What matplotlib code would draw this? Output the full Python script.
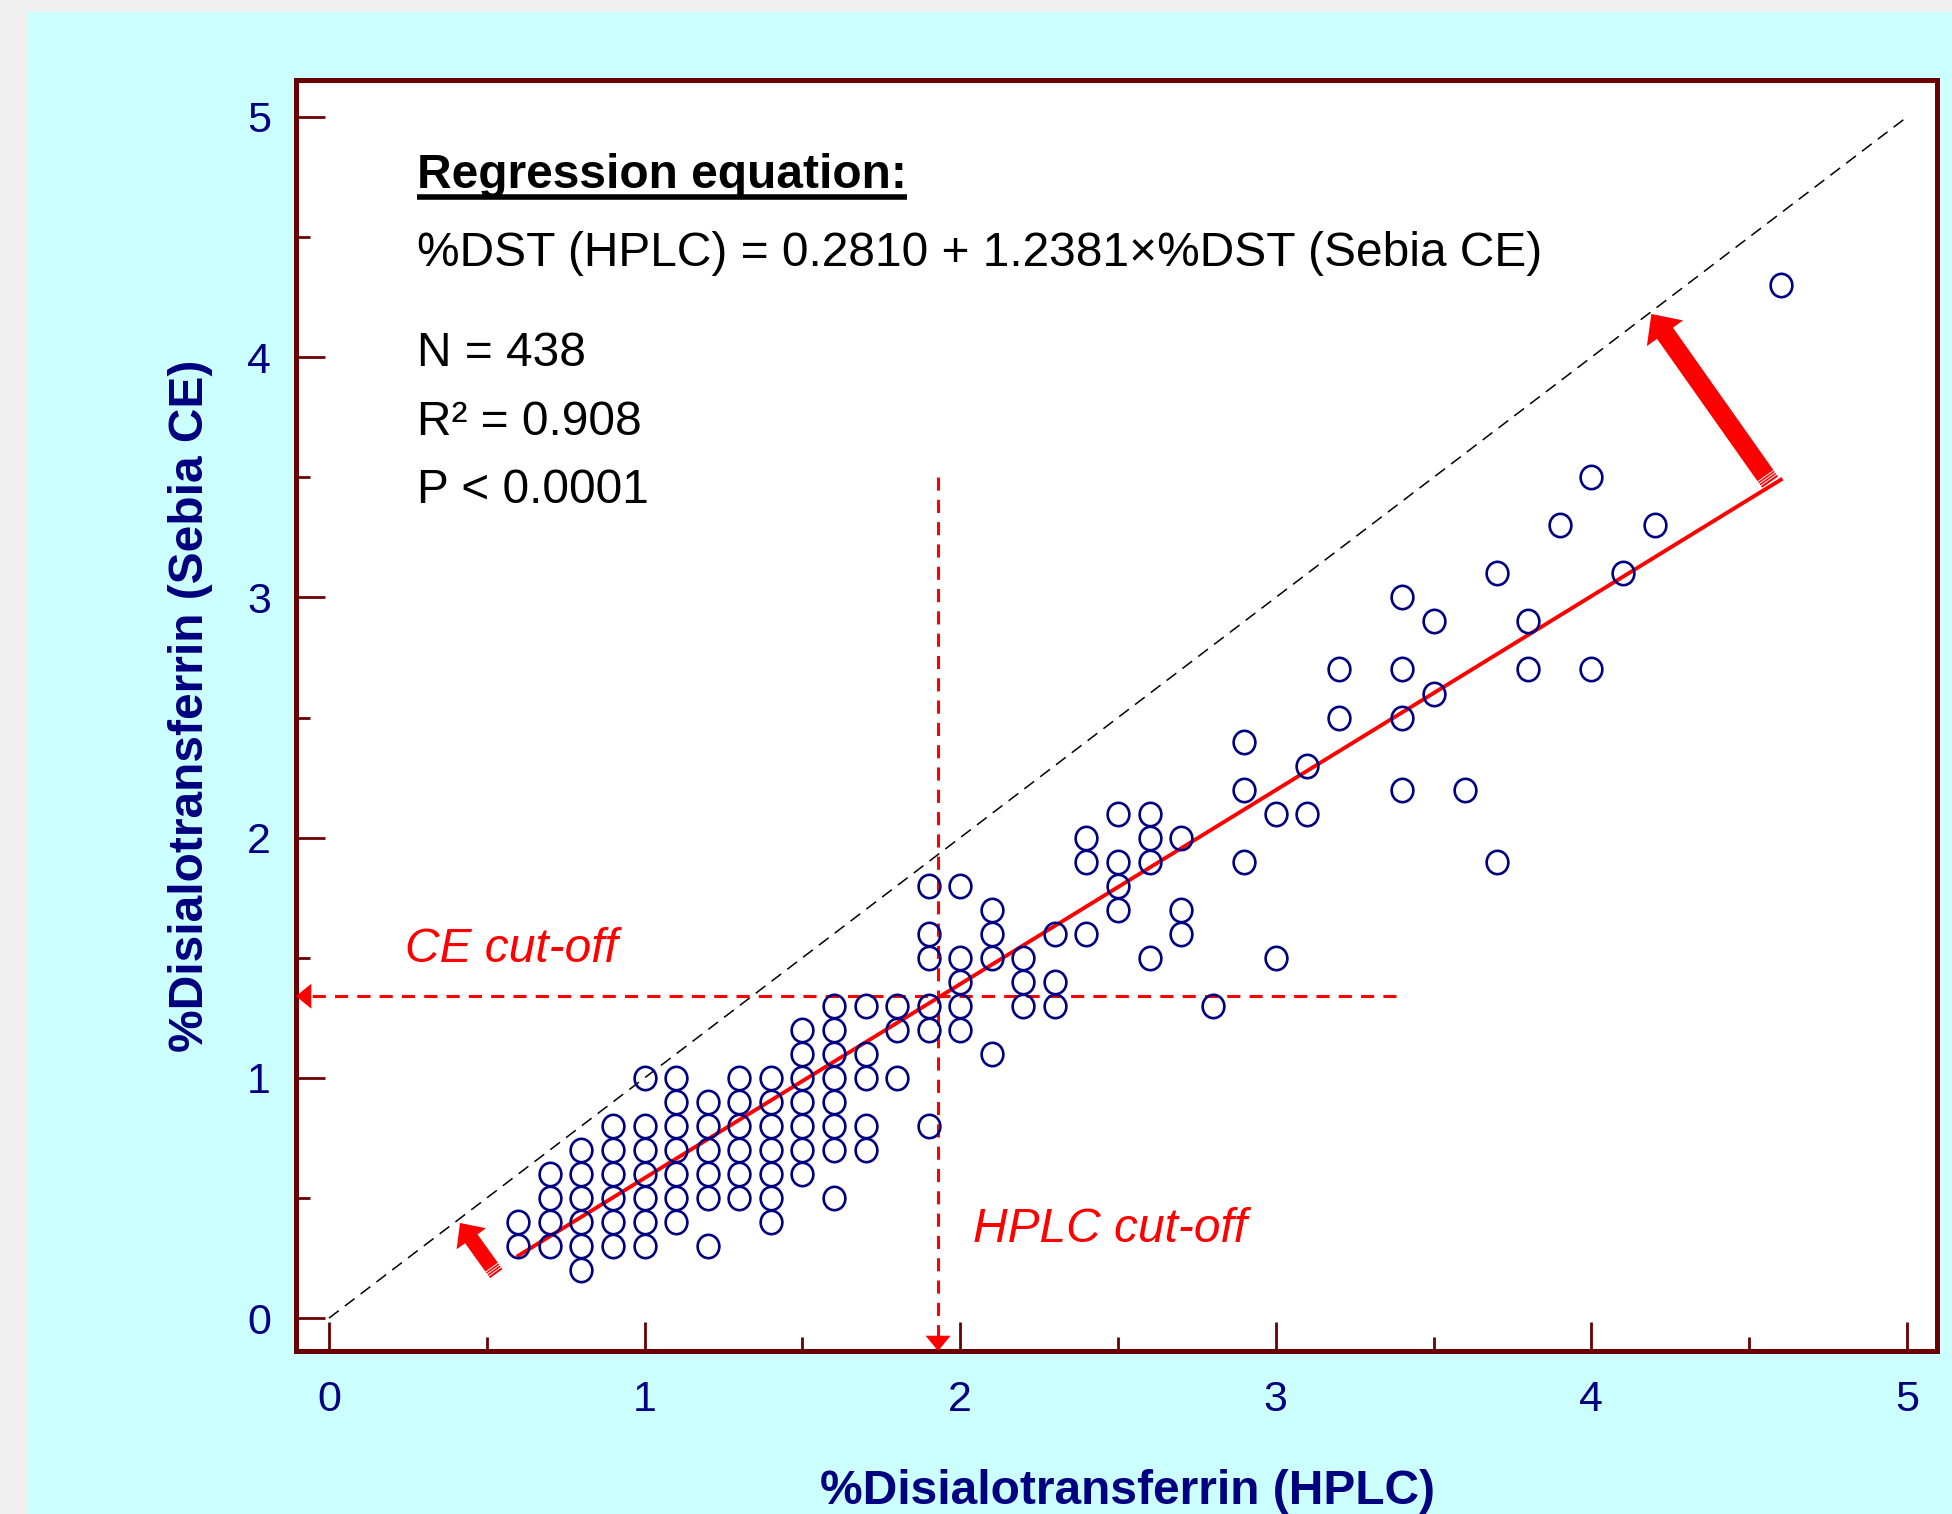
import matplotlib
matplotlib.use('Agg')
import matplotlib.pyplot as plt
from matplotlib.patches import Rectangle
from matplotlib.path import Path
import numpy as np

plt.rcParams['font.family'] = ['Liberation Sans', 'DejaVu Sans']

# ---- data ----
# CE value (y) levels and the HPLC values (x) of the visible circles at each level
ce_levels = [0.2, 0.3, 0.4, 0.5, 0.6, 0.7, 0.8, 0.9, 1.0, 1.1, 1.2, 1.3, 1.4, 1.5,
             1.6, 1.7, 1.8, 1.9, 2.0, 2.1, 2.2, 2.3, 2.4, 2.5, 2.6, 2.7, 2.9, 3.0,
             3.1, 3.3, 3.5, 4.3]
hplc_at_level = [
    [0.8],
    [0.6, 0.7, 0.8, 0.9, 1.0, 1.2],
    [0.6, 0.7, 0.8, 0.9, 1.0, 1.1, 1.4],
    [0.7, 0.8, 0.9, 1.0, 1.1, 1.2, 1.3, 1.4, 1.6],
    [0.7, 0.8, 0.9, 1.0, 1.1, 1.2, 1.3, 1.4, 1.5],
    [0.8, 0.9, 1.0, 1.1, 1.2, 1.3, 1.4, 1.5, 1.6, 1.7],
    [0.9, 1.0, 1.1, 1.2, 1.3, 1.4, 1.5, 1.6, 1.7, 1.9],
    [1.1, 1.2, 1.3, 1.4, 1.5, 1.6],
    [1.0, 1.1, 1.3, 1.4, 1.5, 1.6, 1.7, 1.8],
    [1.5, 1.6, 1.7, 2.1],
    [1.5, 1.6, 1.8, 1.9, 2.0],
    [1.6, 1.7, 1.8, 1.9, 2.0, 2.2, 2.3, 2.8],
    [2.0, 2.2, 2.3],
    [1.9, 2.0, 2.1, 2.2, 2.6, 3.0],
    [1.9, 2.1, 2.3, 2.4, 2.7],
    [2.1, 2.5, 2.7],
    [1.9, 2.0, 2.5],
    [2.4, 2.5, 2.6, 2.9, 3.7],
    [2.4, 2.6, 2.7],
    [2.5, 2.6, 3.0, 3.1],
    [2.9, 3.4, 3.6],
    [3.1],
    [2.9],
    [3.2, 3.4],
    [3.5],
    [3.2, 3.4, 3.8, 4.0],
    [3.5, 3.8],
    [3.4],
    [3.7, 4.1],
    [3.9, 4.2],
    [4.0],
    [4.6],
]

identity_x = [0, 5]
identity_y = [0, 5]
reg_x = [0.6, 4.6]
reg_y = [0.26, 3.49]
hplc_cutoff = 1.93
hplc_cutoff_top = 3.5
ce_cutoff = 1.34
ce_cutoff_right = 3.38
big_arrow_tail = (4.566, 3.48)
big_arrow_tip = (4.19, 4.18)
small_arrow_tail = (0.53, 0.185)
small_arrow_tip = (0.415, 0.396)

x_ticks = [0, 1, 2, 3, 4, 5]
y_ticks = [0, 1, 2, 3, 4, 5]

title_text = 'Regression equation:'
eq_text = '%DST (HPLC) = 0.2810 + 1.2381\u00d7%DST (Sebia CE)'
n_text = 'N = 438'
r2_text = 'R\u00b2 = 0.908'
p_text = 'P < 0.0001'

hplc = np.concatenate([np.array(v, float) for v in hplc_at_level])
ce = np.concatenate([np.full(len(v), lvl) for lvl, v in zip(ce_levels, hplc_at_level)])

# slightly tall oval marker
_circ = Path.unit_circle()
oval = Path(_circ.vertices * np.array([0.93, 1.0]), _circ.codes)

# ---- figure ----
W, H = 1952, 1514
fig = plt.figure(figsize=(W / 100, H / 100), dpi=100, facecolor='#f0f0f0')
fig.patches.append(Rectangle((28 / W, 0), 1 - 28 / W, 1 - 12 / H,
                             transform=fig.transFigure, facecolor='#ccffff',
                             edgecolor='none', zorder=-10))

ax = fig.add_axes([296 / W, 1 - 1351 / H, (1937 - 296) / W, (1351 - 80) / H])
ax.set_facecolor('white')
ax.set_xlim(-0.1046, 5.095)
ax.set_ylim(-0.137, 5.154)

spine_c = '#6b0000'
navy = '#000080'
for s in ax.spines.values():
    s.set_color(spine_c)
    s.set_linewidth(3.6)
    s.set_zorder(5)

ax.set_xticks(x_ticks)
ax.set_yticks(y_ticks)
ax.set_xticks(np.arange(0.5, 5, 1.0), minor=True)
ax.set_yticks(np.arange(0.5, 5, 1.0), minor=True)
ax.tick_params(which='both', direction='in', color=spine_c, width=2,
               top=False, right=False, labelcolor=navy, labelsize=31)
ax.tick_params(which='major', length=21)
ax.tick_params(which='minor', length=10)
ax.tick_params(axis='x', which='major', pad=21)
ax.tick_params(axis='y', which='major', pad=18)

# identity line
ax.plot(identity_x, identity_y, color='black', lw=1.1, dashes=(8, 5), zorder=2)
# regression line
ax.plot(reg_x, reg_y, color='red', lw=2.8, zorder=2.5)
# scatter
ax.plot(hplc, ce, marker=oval, ls='none', ms=16.8, mfc='none', mec=navy, mew=1.9,
        zorder=3)

# cut-off lines
xl0 = ax.get_xlim()[0]
yl0 = ax.get_ylim()[0]
ax.plot([ce_cutoff_right, xl0], [ce_cutoff, ce_cutoff], color='red', lw=2.2,
        dashes=(4.3, 3), zorder=2.6)
ax.plot([hplc_cutoff, hplc_cutoff], [hplc_cutoff_top, yl0], color='red', lw=2.2,
        dashes=(4.3, 3), zorder=2.6)
head = dict(arrowstyle='-|>,head_length=11,head_width=9', mutation_scale=1,
            color='red', lw=0, shrinkA=0, shrinkB=0)
ax.annotate('', xy=(xl0, ce_cutoff), xytext=(1.0, ce_cutoff), arrowprops=head,
            annotation_clip=False, zorder=6)
ax.annotate('', xy=(hplc_cutoff, yl0), xytext=(hplc_cutoff, 1.0), arrowprops=head,
            annotation_clip=False, zorder=6)

# thick red arrows
arrows = [(big_arrow_tail, big_arrow_tip, 17, 32, 14),
          (small_arrow_tail, small_arrow_tip, 14, 26, 11)]
for tail, tip, hl, hw, tw in arrows:
    ax.annotate('', xy=tip, xytext=tail,
                arrowprops=dict(arrowstyle=f'simple,head_length={hl},head_width={hw},tail_width={tw}',
                                mutation_scale=1, color='red', lw=0, shrinkA=0, shrinkB=0),
                zorder=4)

# texts
fs = 34.5
t_title = ax.text(0.279, 4.704, title_text, fontsize=fs, fontweight='bold',
                  ha='left', va='baseline', color='black')
ax.text(0.279, 4.381, eq_text, fontsize=fs, ha='left', va='baseline', color='black')
ax.text(0.279, 3.963, n_text, fontsize=fs, ha='left', va='baseline', color='black')
ax.text(0.279, 3.678, r2_text, fontsize=fs, ha='left', va='baseline', color='black')
ax.text(0.279, 3.393, p_text, fontsize=fs, ha='left', va='baseline', color='black')
ax.text(0.24, 1.536, 'CE cut-off', fontsize=fs, style='italic', color='red',
        ha='left', va='center')
ax.text(2.04, 0.37, 'HPLC cut-off', fontsize=fs, style='italic', color='red',
        ha='left', va='center')

ax.set_xlabel('%Disialotransferrin (HPLC)', fontsize=fs, fontweight='bold', color=navy)
ax.xaxis.label.set_va('baseline')
ax.xaxis.set_label_coords(0.507, -0.1204)
ax.set_ylabel('%Disialotransferrin (Sebia CE)', fontsize=fs, fontweight='bold', color=navy)
ax.yaxis.label.set_va('baseline')
ax.yaxis.set_label_coords(-0.0567, 0.508)

# underline of the title and white stripes at the arrow tails
fig.canvas.draw()
bb = t_title.get_window_extent()
inv = ax.transData.inverted()
(ux0, _), (ux1, _) = inv.transform([(bb.x0, 0), (bb.x1, 0)])
base_disp = ax.transData.transform((0.279, 4.704))[1]
uy = inv.transform((0, base_disp - 9))[1]
ax.plot([ux0, ux1], [uy, uy], color='black', lw=4, solid_capstyle='butt')

px_per_pt = fig.dpi / 72.0
for tail, tip, hl, hw, tw in arrows:
    pt = ax.transData.transform(tail)
    pp = ax.transData.transform(tip)
    u = (pp - pt) / np.hypot(*(pp - pt))
    nrm = np.array([-u[1], u[0]])
    half = tw * px_per_pt / 2 + 1
    for d in (2.5, 5.0, 7.5):
        c = pt + u * d
        seg = inv.transform([c - nrm * half, c + nrm * half])
        ax.plot(seg[:, 0], seg[:, 1], color='white', lw=0.7, zorder=4.5,
                solid_capstyle='butt')

fig.savefig('out.png', dpi=100, facecolor=fig.get_facecolor())
